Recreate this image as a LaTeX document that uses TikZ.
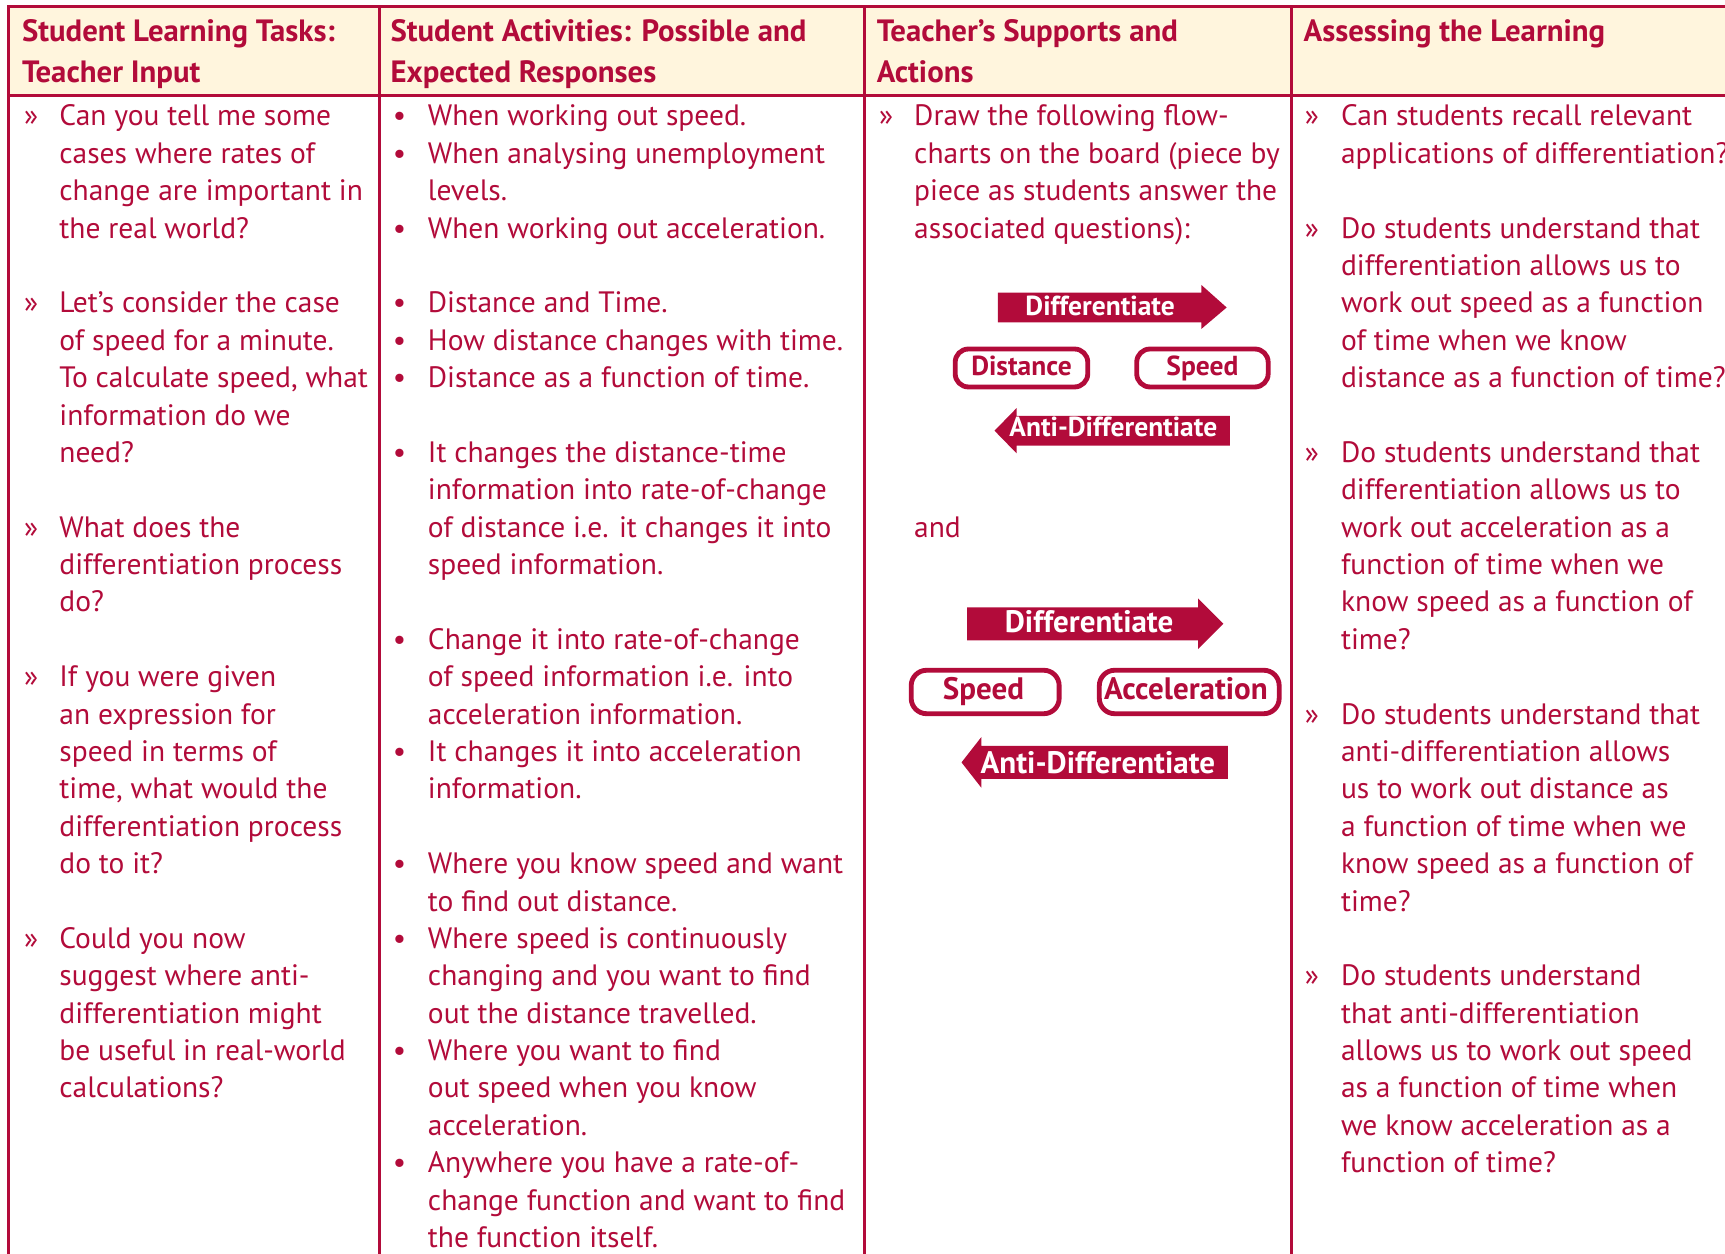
\documentclass[tikz,border=0pt]{standalone}
\usepackage{fontspec}
\setmainfont{PT Sans}
\definecolor{crim}{RGB}{178,11,58}
\definecolor{cream}{RGB}{255,245,221}
\newcounter{lnc}
\newcommand\tl[3]{\stepcounter{lnc}\node[txt] (t\thelnc) at (#1,{114.5+33.98*(#2)}) {#3};}
\newcommand\hd[3]{\stepcounter{lnc}\node[hdr] (h\thelnc) at (#1,#2) {#3};}
\begin{document}
\begin{tikzpicture}[x=0.5pt,y=-0.5pt,
  txt/.style={anchor=base west,inner sep=0pt,outer sep=0pt,text=crim,font=\fontsize{13.4}{17}\selectfont},
  hdr/.style={anchor=base west,inner sep=0pt,outer sep=0pt,text=crim,font=\bfseries\fontsize{14}{18}\selectfont},
  rule/.style={draw=crim,line width=1.25pt},
  fbox/.style={draw=crim,fill=white,rounded corners=#1,line width=2.2pt,inner sep=0pt},
  fbox/.default=6pt,
  flab/.style={anchor=base,inner sep=0pt,font=\bfseries\fontsize{#1}{#1}\selectfont},
  flab/.default=12.5,
  arr/.style={fill=crim}]
\useasboundingbox (0,0) rectangle (1568,1139);
\clip (0,0) rectangle (1568,1139);
% header background and table rules
\fill[cream] (8,6) rectangle (1580,87);
\draw[rule] (1580,6) -- (8,6) -- (8,1150);
\draw[rule] (8,87) -- (1580,87);
\draw[rule] (345,6) -- (345,1150);
\draw[rule] (786,6) -- (786,1150);
\draw[rule] (1174,6) -- (1174,1150);
% headers
\hd{20}{38}{Student Learning Tasks:}
\hd{20}{75}{Teacher Input}
\hd{355}{38}{Student Activities: Possible and}
\hd{355}{75}{Expected Responses}
\hd{797}{38}{Teacher’s Supports and}
\hd{797}{75}{Actions}
\hd{1185}{38}{Assessing the Learning}
% column 1
\tl{22}{0}{»}\tl{54}{0}{Can you tell me some}
\tl{54}{1}{cases where rates of}
\tl{54}{2}{change are important in}
\tl{54}{3}{the real world?}
\tl{22}{5}{»}\tl{54}{5}{Let’s consider the case}
\tl{54}{6}{of speed for a minute.}
\tl{54}{7}{To calculate speed, what}
\tl{54}{8}{information do we}
\tl{54}{9}{need?}
\tl{22}{11}{»}\tl{54}{11}{What does the}
\tl{54}{12}{differentiation process}
\tl{54}{13}{do?}
\tl{22}{15}{»}\tl{54}{15}{If you were given}
\tl{54}{16}{an expression for}
\tl{54}{17}{speed in terms of}
\tl{54}{18}{time, what would the}
\tl{54}{19}{differentiation process}
\tl{54}{20}{do to it?}
\tl{22}{22}{»}\tl{54}{22}{Could you now}
\tl{54}{23}{suggest where anti-}
\tl{54}{24}{differentiation might}
\tl{54}{25}{be useful in real-world}
\tl{54}{26}{calculations?}
% column 2
\tl{357}{0}{•}\tl{389}{0}{When working out speed.}
\tl{357}{1}{•}\tl{389}{1}{When analysing unemployment}
\tl{389}{2}{levels.}
\tl{357}{3}{•}\tl{389}{3}{When working out acceleration.}
\tl{357}{5}{•}\tl{389}{5}{Distance and Time.}
\tl{357}{6}{•}\tl{389}{6}{How distance changes with time.}
\tl{357}{7}{•}\tl{389}{7}{Distance as a function of time.}
\tl{357}{9}{•}\tl{389}{9}{It changes the distance-time}
\tl{389}{10}{information into rate-of-change}
\tl{389}{11}{of distance i.e. it changes it into}
\tl{389}{12}{speed information.}
\tl{357}{14}{•}\tl{389}{14}{Change it into rate-of-change}
\tl{389}{15}{of speed information i.e. into}
\tl{389}{16}{acceleration information.}
\tl{357}{17}{•}\tl{389}{17}{It changes it into acceleration}
\tl{389}{18}{information.}
\tl{357}{20}{•}\tl{389}{20}{Where you know speed and want}
\tl{389}{21}{to find out distance.}
\tl{357}{22}{•}\tl{389}{22}{Where speed is continuously}
\tl{389}{23}{changing and you want to find}
\tl{389}{24}{out the distance travelled.}
\tl{357}{25}{•}\tl{389}{25}{Where you want to find}
\tl{389}{26}{out speed when you know}
\tl{389}{27}{acceleration.}
\tl{357}{28}{•}\tl{389}{28}{Anywhere you have a rate-of-}
\tl{389}{29}{change function and want to find}
\tl{389}{30}{the function itself.}
% column 3
\tl{799}{0}{»}\tl{831}{0}{Draw the following flow-}
\tl{831}{1}{charts on the board (piece by}
\tl{831}{2}{piece as students answer the}
\tl{831}{3}{associated questions):}
\tl{831}{11}{and}
% flowchart 1
\fill[arr] (907,266) -- (1092,266) -- (1092,259) -- (1115,279.5) -- (1092,299) -- (1092,293) -- (907,293) -- cycle;
\node[flab,text=white] (d1) at (1000,286.5) {Differentiate};
\node[fbox,minimum width=60.25pt,minimum height=17.25pt] (b1) at (928.5,334.5) {};
\node[fbox,minimum width=59.75pt,minimum height=17.25pt] (b2) at (1093,334.5) {};
\node[flab,text=crim] (l1) at (928.5,341) {Distance};
\node[flab,text=crim] (l2) at (1093,341) {Speed};
\fill[arr] (1118,378) -- (924,378) -- (924,371) -- (904,391.5) -- (924,412) -- (924,405) -- (1118,405) -- cycle;
\node[flab,text=white] (a1) at (1012,397) {Anti-Differentiate};
% flowchart 2
\fill[arr] (879,552) -- (1089,552) -- (1089,544) -- (1112,567) -- (1089,590) -- (1089,582) -- (879,582) -- cycle;
\node[flab=14.1,text=white] (d2) at (990,575) {Differentiate};
\node[fbox=7pt,minimum width=67.25pt,minimum height=19.75pt] (b3) at (895.5,629) {};
\node[fbox=7pt,minimum width=81.75pt,minimum height=19.75pt] (b4) at (1081,629) {};
\node[flab=14.1,text=crim] (l3) at (894,635.5) {Speed};
\node[flab=14.1,text=crim] (l4) at (1078,635.5) {Acceleration};
\fill[arr] (1116,678) -- (892,678) -- (892,670) -- (874,693) -- (892,716) -- (892,708) -- (1116,708) -- cycle;
\node[flab=14.1,text=white] (a2) at (998,703) {Anti-Differentiate};
% column 4
\tl{1186}{0}{»}\tl{1219}{0}{Can students recall relevant}
\tl{1219}{1}{applications of differentiation?}
\tl{1186}{3}{»}\tl{1219}{3}{Do students understand that}
\tl{1219}{4}{differentiation allows us to}
\tl{1219}{5}{work out speed as a function}
\tl{1219}{6}{of time when we know}
\tl{1219}{7}{distance as a function of time?}
\tl{1186}{9}{»}\tl{1219}{9}{Do students understand that}
\tl{1219}{10}{differentiation allows us to}
\tl{1219}{11}{work out acceleration as a}
\tl{1219}{12}{function of time when we}
\tl{1219}{13}{know speed as a function of}
\tl{1219}{14}{time?}
\tl{1186}{16}{»}\tl{1219}{16}{Do students understand that}
\tl{1219}{17}{anti-differentiation allows}
\tl{1219}{18}{us to work out distance as}
\tl{1219}{19}{a function of time when we}
\tl{1219}{20}{know speed as a function of}
\tl{1219}{21}{time?}
\tl{1186}{23}{»}\tl{1219}{23}{Do students understand}
\tl{1219}{24}{that anti-differentiation}
\tl{1219}{25}{allows us to work out speed}
\tl{1219}{26}{as a function of time when}
\tl{1219}{27}{we know acceleration as a}
\tl{1219}{28}{function of time?}
\end{tikzpicture}
\end{document}
